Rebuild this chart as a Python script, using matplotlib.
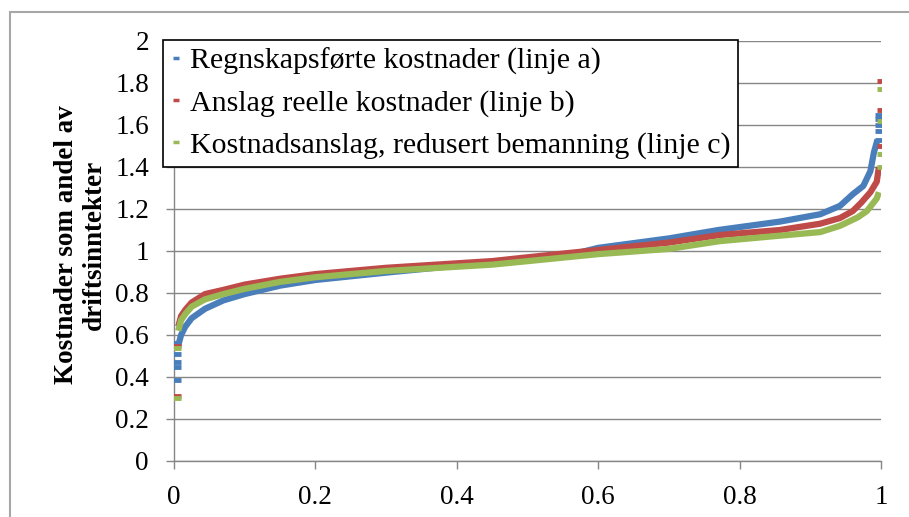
import matplotlib
matplotlib.use("Agg")
import matplotlib.pyplot as plt
from matplotlib.patches import Rectangle

plt.rcParams['font.family'] = ['Liberation Serif', 'DejaVu Serif']

# Series values (share of ranked firms vs cost ratio)
labels = ["Regnskapsførte kostnader (linje a)",
          "Anslag reelle kostnader (linje b)",
          "Kostnadsanslag, redusert bemanning (linje c)"]
colors = ["#4A7EBB", "#BE4B48", "#98B954"]

a_x = [0.006, 0.01, 0.016, 0.025, 0.044, 0.07, 0.1, 0.15, 0.2, 0.3, 0.4, 0.5,
       0.57, 0.6, 0.7, 0.77, 0.857, 0.914, 0.942, 0.96, 0.975, 0.985, 0.99, 0.995]
a_y = [0.55, 0.60, 0.64, 0.68, 0.725, 0.765, 0.795, 0.835, 0.862, 0.897, 0.93, 0.96,
       0.99, 1.015, 1.06, 1.1, 1.14, 1.175, 1.215, 1.27, 1.31, 1.38, 1.47, 1.53]
a_tail_x = [0.004, 0.004, 0.004, 0.004, 0.004, 0.997, 0.997, 0.997, 0.997, 0.997]
a_tail_y = [0.56, 0.51, 0.47, 0.45, 0.386, 1.53, 1.57, 1.60, 1.63, 1.65]

b_x = [0.006, 0.01, 0.016, 0.025, 0.044, 0.07, 0.1, 0.15, 0.2, 0.3, 0.45, 0.5,
       0.6, 0.7, 0.772, 0.857, 0.914, 0.942, 0.96, 0.972, 0.985, 0.994, 0.997]
b_y = [0.64, 0.69, 0.72, 0.755, 0.795, 0.815, 0.84, 0.868, 0.89, 0.92, 0.952, 0.97,
       1.005, 1.04, 1.076, 1.10, 1.13, 1.157, 1.19, 1.23, 1.28, 1.33, 1.40]
b_tail_x = [0.004, 0.004, 1.0, 1.0, 1.0]
b_tail_y = [0.55, 0.31, 1.50, 1.67, 1.81]

c_x = [0.006, 0.01, 0.016, 0.025, 0.044, 0.07, 0.1, 0.15, 0.2, 0.3, 0.45, 0.6,
       0.7, 0.772, 0.857, 0.914, 0.942, 0.967, 0.98, 0.994, 0.997]
c_y = [0.62, 0.67, 0.70, 0.735, 0.77, 0.795, 0.82, 0.853, 0.875, 0.905, 0.935, 0.985,
       1.01, 1.047, 1.073, 1.09, 1.12, 1.16, 1.19, 1.25, 1.28]
c_tail_x = [0.004, 0.004, 1.0, 1.0, 1.0, 1.0]
c_tail_y = [0.54, 0.30, 1.40, 1.46, 1.62, 1.77]

x_ticks = [0, 0.2, 0.4, 0.6, 0.8, 1]
y_ticks = [0, 0.2, 0.4, 0.6, 0.8, 1, 1.2, 1.4, 1.6, 1.8, 2]

fig = plt.figure(figsize=(9.09, 5.17), dpi=100)
ax = fig.add_axes([174 / 909, 1 - 461 / 517, 707 / 909, 420 / 517])

# outer chart frame (runs off the picture on the right and bottom)
fig.patches.append(Rectangle((10 / 909, -1), 2, 1 + (1 - 12 / 517), transform=fig.transFigure,
                             fill=False, edgecolor="#A6A6A6", lw=1.5))

series = [(a_x, a_y, a_tail_x, a_tail_y), (b_x, b_y, b_tail_x, b_tail_y),
          (c_x, c_y, c_tail_x, c_tail_y)]
for (xs, ys, tx, ty), col, lab in zip(series, colors, labels):
    ax.plot(xs, ys, color=col, lw=4.5, solid_capstyle='butt', zorder=3)
    ax.plot(tx, ty, ls='none', marker='_', ms=6, mew=3.5, color=col, zorder=3)
    ax.plot([], [], ls='none', marker='_', ms=4, mew=2.5, color=col, label=lab)

ax.set_xlim(0, 1)
ax.set_ylim(0, 2)
ax.set_xticks(x_ticks)
ax.set_yticks(y_ticks)
ax.set_xticklabels([f"{v:g}" for v in x_ticks])
ax.set_yticklabels([f"{v:g}" for v in y_ticks])
ax.grid(axis='y', color="#868686", lw=1.0)
ax.set_axisbelow(True)
for s in ['top', 'right']:
    ax.spines[s].set_visible(False)
for s in ['left', 'bottom']:
    ax.spines[s].set_color("#868686")
    ax.spines[s].set_linewidth(1.0)
ax.tick_params(axis='both', direction='out', length=6, width=1.0, color="#868686",
               labelsize=19.5)
ax.tick_params(axis='x', pad=11)
ax.tick_params(axis='y', pad=12)

fig.text(80 / 909, 1 - 245 / 517, "Kostnader som andel av\ndriftsinntekter",
         rotation=90, ha='center', va='center', multialignment='center',
         fontsize=19.5, fontweight='bold', linespacing=1.15)

leg = ax.legend(loc='upper left', bbox_to_anchor=(163 / 909, 1 - 40 / 517),
                bbox_transform=fig.transFigure, fontsize=21.5, frameon=True,
                fancybox=False, edgecolor='black', framealpha=1,
                handlelength=0.4, handletextpad=0.25, borderpad=0.25,
                labelspacing=0.5, borderaxespad=0)
leg.get_frame().set_linewidth(1.2)
leg.set_zorder(5)

fig.savefig("out.png", dpi=100)
